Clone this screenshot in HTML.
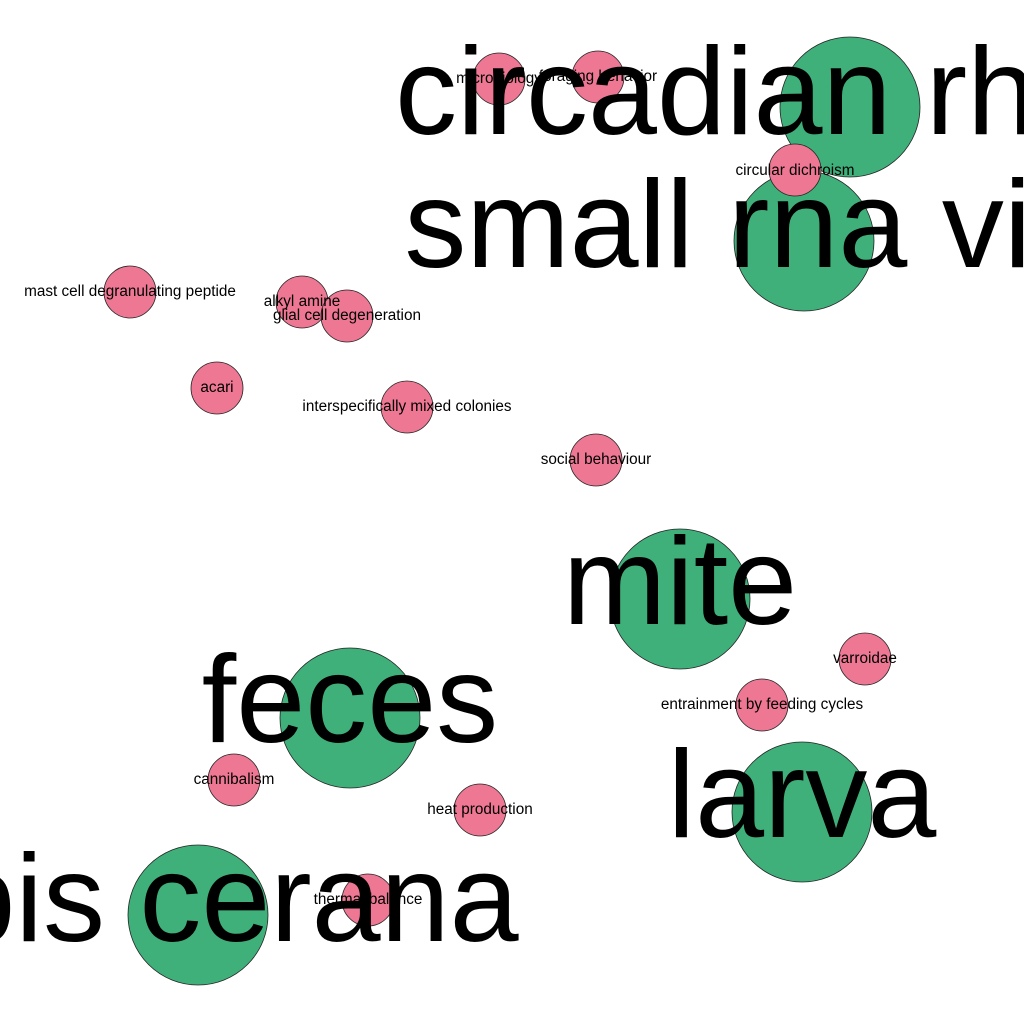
<!DOCTYPE html>
<html><head><style>html,body{margin:0;padding:0;background:#fff}svg{display:block}</style></head><body>
<svg width="1024" height="1024" viewBox="0 0 1024 1024" xmlns="http://www.w3.org/2000/svg" font-family="Liberation Sans, Arial, sans-serif">
<rect width="1024" height="1024" fill="#fff"/>
<g fill="#3fb07a" stroke="#222" stroke-width="0.8">
<circle cx="850" cy="107" r="70"/>
<circle cx="804" cy="241" r="70"/>
<circle cx="680" cy="599" r="70"/>
<circle cx="350" cy="718" r="70"/>
<circle cx="802" cy="812" r="70"/>
<circle cx="198" cy="915" r="70"/>
</g>
<g fill="#ee7893" stroke="#222" stroke-width="0.8">
<circle cx="499" cy="79" r="26"/>
<circle cx="598" cy="77" r="26"/>
<circle cx="795" cy="170" r="26"/>
<circle cx="130" cy="292" r="26"/>
<circle cx="302" cy="302" r="26"/>
<circle cx="347" cy="316" r="26"/>
<circle cx="217" cy="388" r="26"/>
<circle cx="407" cy="407" r="26"/>
<circle cx="596" cy="460" r="26"/>
<circle cx="865" cy="659" r="26"/>
<circle cx="762" cy="705" r="26"/>
<circle cx="234" cy="780" r="26"/>
<circle cx="480" cy="810" r="26"/>
<circle cx="368" cy="900" r="26"/>
</g>
<g font-size="124" text-anchor="middle" fill="#000">
<text x="850" y="134">circadian rhythm</text>
<text x="804" y="267">small rna virus</text>
<text x="680" y="624">mite</text>
<text x="350" y="742">feces</text>
<text x="802" y="837">larva</text>
<text x="198" y="941">apis cerana</text>
</g>
<g font-size="15.3" text-anchor="middle" fill="#000">
<text x="499" y="83">microbiology</text>
<text x="598" y="81">foraging behavior</text>
<text x="795" y="175">circular dichroism</text>
<text x="130" y="296">mast cell degranulating peptide</text>
<text x="302" y="306">alkyl amine</text>
<text x="347" y="320">glial cell degeneration</text>
<text x="217" y="392">acari</text>
<text x="407" y="411">interspecifically mixed colonies</text>
<text x="596" y="464">social behaviour</text>
<text x="865" y="663">varroidae</text>
<text x="762" y="709">entrainment by feeding cycles</text>
<text x="234" y="784">cannibalism</text>
<text x="480" y="814">heat production</text>
<text x="368" y="904">thermal balance</text>
</g>
</svg>
</body></html>
